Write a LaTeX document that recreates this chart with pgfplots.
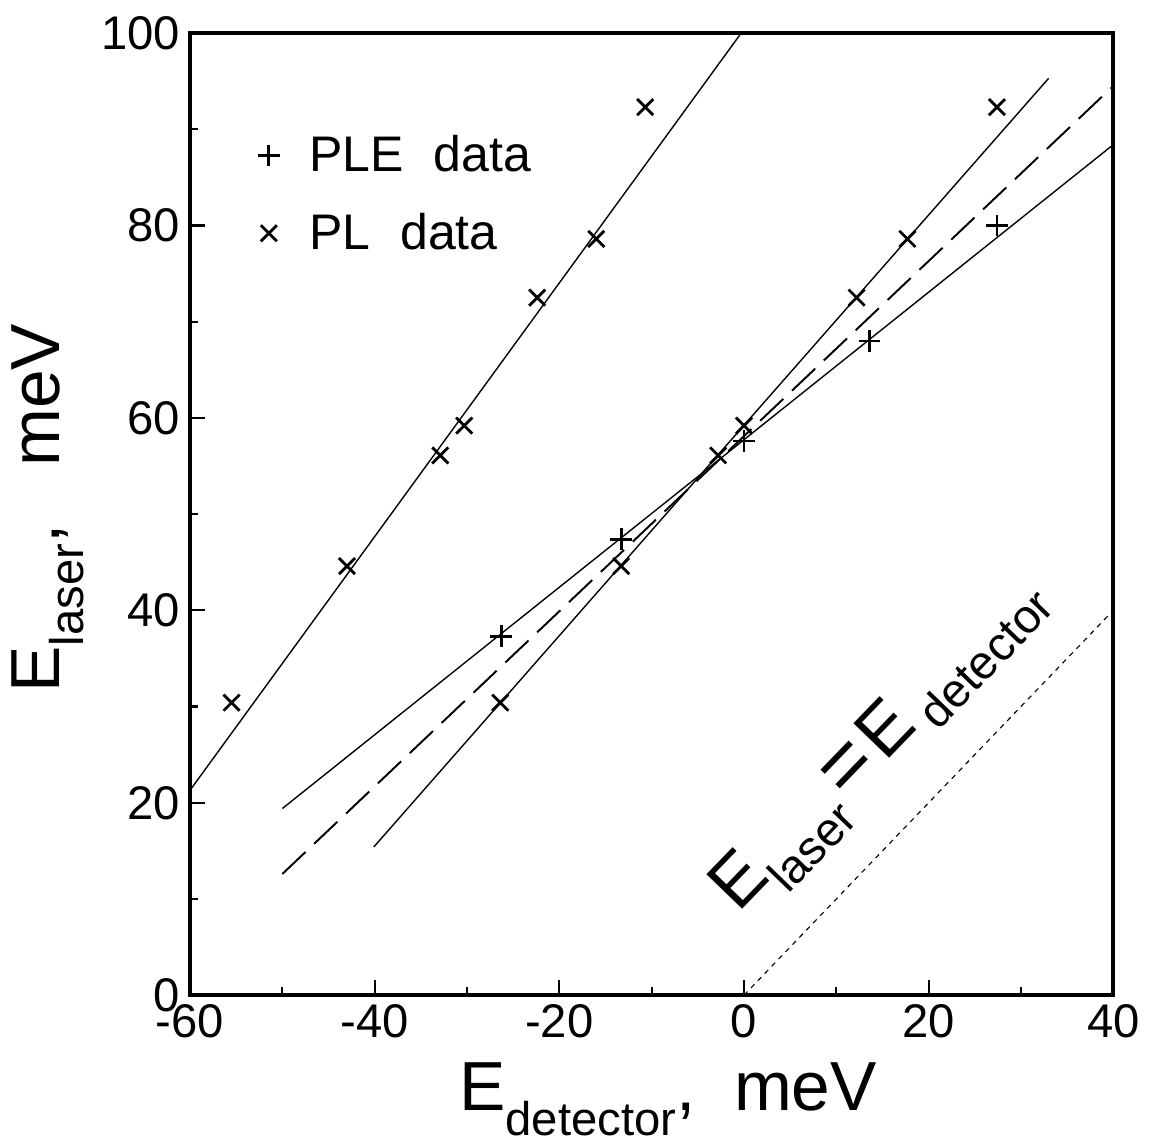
\documentclass[border=0pt]{standalone}
\usepackage{pgfplots}
\pgfplotsset{compat=1.18}
\usepackage{fontspec}
\setmainfont{Liberation Sans}
\newcommand{\low}[2]{\raisebox{#1}{\fontsize{17}{20}\selectfont #2}}

\begin{document}
\begin{tikzpicture}
\begin{axis}[
    name=ax,
    width=332.3pt, height=346.3pt, scale only axis,
    xmin=-60, xmax=40, ymin=0, ymax=100,
    xtick={-60,-40,...,40}, ytick={0,20,...,100},
    minor x tick num=1, minor y tick num=1,
    tick pos=left, tick align=inside,
    major tick length=5.4pt, minor tick length=3pt,
    every tick/.style={black, line width=0.8pt},
    axis line style={line width=1.4pt},
    /pgf/number format/assume math mode=true,
    ticklabel style={font=\fontsize{17}{20}\selectfont},
    xlabel={E\low{-9pt}{detector},\ \ meV},
    ylabel={E\low{-8.5pt}{laser},\ \ \ meV},
    label style={font=\fontsize{25}{30}\selectfont, inner sep=0pt},
    xlabel style={at={(axis description cs:0.291,-0.1195)}, anchor=base west},
    ylabel style={at={(axis description cs:-0.141,0.314)}, anchor=base west},
    legend style={draw=none, fill=none, at={(axis cs:-53.6,90.6)}, anchor=north west,
      font=\fontsize{18}{21}\selectfont, row sep=9.5pt},
    legend cell align=left,
]
% PLE data
\addplot[only marks, mark=+, mark size=3.9pt, mark options={line width=1pt}] coordinates {
  (-26.3,37.3) (-13.3,47.4) (0,57.6) (13.6,68.0) (27.4,80.0)
};
\addlegendentry{\hspace{8.6pt}PLE\hspace{0.6em}data}
% PL data
\addplot[only marks, mark=x, mark size=4.1pt, mark options={line width=1pt}] coordinates {
  (-55.5,30.4) (-43.0,44.6) (-32.9,56.1) (-30.3,59.2) (-22.4,72.5)
  (-16.0,78.6) (-10.7,92.3)
  (-26.4,30.4) (-13.3,44.6) (-2.8,56.1) (0.0,59.2) (12.2,72.5)
  (17.7,78.6) (27.4,92.3)
};
\addlegendentry{\hspace{8.6pt}PL\hspace{0.6em}data}
% fit lines
\addplot[forget plot, line width=0.5pt] coordinates {(-60,21.3) (-0.3,100)};
\addplot[forget plot, line width=0.5pt] coordinates {(-40.1,15.4) (33,95.3)};
\addplot[forget plot, line width=0.5pt] coordinates {(-50,19.4) (40,88.4)};
\addplot[forget plot, line width=0.7pt, dash pattern=on 11.5pt off 4.3pt] coordinates {(-50,12.6) (40,94.5)};
\addplot[forget plot, line width=0.4pt, dash pattern=on 1.8pt off 1.8pt] coordinates {(0,0) (40,40)};
\node[rotate=46, anchor=base west, inner sep=0pt, font=\fontsize{26}{30}\selectfont] at (axis cs:-0.6,8.4)
  {E\low{-8pt}{laser}\hspace{0.08em}{\fontsize{30}{30}\selectfont =}\hspace{0.08em}E\hspace{0.15em}\low{-6pt}{detector}};
\end{axis}
\pgfresetboundingbox
\useasboundingbox (ax.south west) ++(-68.4pt,-52.9pt) rectangle ++(415pt,411.1pt);
\end{tikzpicture}
\end{document}
